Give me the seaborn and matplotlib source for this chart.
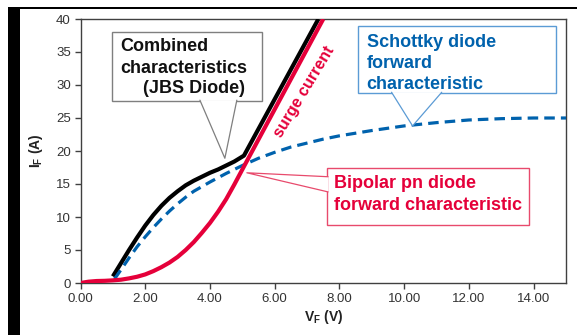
import matplotlib
matplotlib.use("Agg")
import matplotlib.pyplot as plt
import seaborn as sns
import pandas as pd
from matplotlib.patches import Rectangle, Polygon

# ---- data ----
schottky_v = [1.05, 1.25, 1.5, 1.75, 2.0, 2.25, 2.5, 2.75, 3.0, 3.25, 3.5, 3.75, 4.0, 4.5, 5.0, 5.5, 6.0, 6.5,
              7.0, 7.5, 8.0, 9.0, 10.0, 11.0, 12.0, 13.0, 14.0, 15.0]
schottky_i = [0.6, 2.0, 3.8, 5.5, 7.0, 8.4, 9.7, 10.9, 12.0, 13.0, 13.9, 14.6, 15.3, 16.6, 17.8, 18.9, 19.8, 20.6,
              21.2, 21.8, 22.3, 23.1, 23.8, 24.3, 24.7, 24.9, 25.0, 25.0]

combined_v = [1.0, 1.25, 1.5, 1.75, 2.0, 2.25, 2.5, 2.75, 3.0, 3.25, 3.5, 3.75, 4.0, 4.25, 4.5, 4.75, 5.05, 7.35]
combined_i = [1.0, 3.0, 5.0, 6.9, 8.7, 10.3, 11.7, 12.9, 13.9, 14.8, 15.5, 16.1, 16.7, 17.2, 17.8, 18.4, 19.3, 40.0]

bipolar_v = [0.0, 0.25, 0.5, 0.75, 1.0, 1.25, 1.5, 1.75, 2.0, 2.25, 2.5, 2.75, 3.0, 3.25, 3.5, 3.75, 4.0, 4.25,
             4.5, 4.75, 5.0, 7.5]
bipolar_i = [0.0, 0.2, 0.3, 0.33, 0.4, 0.5, 0.7, 0.95, 1.3, 1.8, 2.4, 3.1, 3.95, 5.0, 6.2, 7.6, 9.1, 10.8,
             12.7, 14.9, 17.2, 40.0]

x_ticks = [0, 2, 4, 6, 8, 10, 12, 14]
y_ticks = [0, 5, 10, 15, 20, 25, 30, 35, 40]

RED = "#E5003A"
BLUE = "#0062AD"
BLUE_BOX = "#5B9BD5"
RED_BOX = "#E84A6C"
GRAY = "#404040"

sns.set_theme(style="white")
plt.rcParams["font.family"] = ["Liberation Sans", "DejaVu Sans"]

fig = plt.figure(figsize=(5.77, 3.35), dpi=100)
ax = fig.add_axes([80.5 / 577, 52 / 335, (566 - 80.5) / 577, (283 - 19) / 335])

df_s = pd.DataFrame({"V": schottky_v, "I": schottky_i})
df_c = pd.DataFrame({"V": combined_v, "I": combined_i})
df_b = pd.DataFrame({"V": bipolar_v, "I": bipolar_i})

sns.lineplot(data=df_c, x="V", y="I", ax=ax, color="black", lw=3.0, sort=False,
             solid_capstyle="butt", solid_joinstyle="round", zorder=3)
sns.lineplot(data=df_s, x="V", y="I", ax=ax, color=BLUE, lw=2.3, sort=False, zorder=4)
ax.lines[-1].set_dashes((3.3, 1.9))
sns.lineplot(data=df_b, x="V", y="I", ax=ax, color=RED, lw=3.0, sort=False,
             solid_capstyle="butt", solid_joinstyle="round", zorder=5)

ax.set_xlim(0, 15)
ax.set_ylim(0, 40)
ax.set_xticks(x_ticks)
ax.set_xticklabels([f"{t:.2f}" for t in x_ticks])
ax.set_yticks(y_ticks)
ax.set_yticklabels([str(t) for t in y_ticks])
ax.tick_params(axis="both", which="both", direction="out", length=4, width=1,
               color=GRAY, labelsize=9.5, labelcolor="#333333", pad=3,
               bottom=True, left=True)
for s in ax.spines.values():
    s.set_color(GRAY)
    s.set_linewidth(1.0)
    s.set_visible(True)

ax.set_xlabel(r"V$_\mathregular{F}$ (V)", fontsize=10, fontweight="bold", color="#222222", labelpad=2)
ax.set_ylabel(r"I$_\mathregular{F}$ (A)", fontsize=10, fontweight="bold", color="#222222", labelpad=8)


def callout(box, base, tip, edge, text_lines, text_color):
    x0, y0, x1, y1 = box
    ax.add_patch(Rectangle((x0, y0), x1 - x0, y1 - y0, facecolor="white",
                           edgecolor=edge, lw=1.0, zorder=6))
    (bx0, by0), (bx1, by1) = base
    ax.add_patch(Polygon([(bx0, by0), tip, (bx1, by1)], closed=True,
                         facecolor="white", edgecolor="none", zorder=6.5))
    ax.plot([bx0, tip[0], bx1], [by0, tip[1], by1], color=edge, lw=0.9, zorder=7)
    for (tx, ty, t) in text_lines:
        ax.text(tx, ty, t, color=text_color, fontsize=13, fontweight="bold",
                ha="left", va="center", zorder=8)


# Combined characteristics box
callout((0.97, 27.6, 5.6, 38.0),
        ((3.69, 27.7), (4.83, 27.7)), (4.46, 18.9), "#7F7F7F",
        [(1.22, 35.8, "Combined"), (1.22, 32.5, "characteristics"), (1.93, 29.5, "(JBS Diode)")],
        "#111111")

# Schottky box
callout((8.56, 28.8, 14.7, 38.9),
        ((9.61, 28.9), (11.16, 28.9)), (10.26, 23.8), BLUE_BOX,
        [(8.84, 36.5, "Schottky diode"), (8.84, 33.3, "forward"), (8.84, 30.0, "characteristic")],
        BLUE)

# Bipolar box
callout((7.61, 8.8, 13.87, 17.4),
        ((7.65, 16.1), (7.65, 13.8)), (5.14, 16.7), RED_BOX,
        [(7.82, 15.15, "Bipolar pn diode"), (7.82, 11.8, "forward characteristic")],
        RED)

ax.text(6.9, 28.9, "surge current", color=RED, fontsize=11.5, fontweight="bold",
        rotation=59, rotation_mode="anchor", ha="center", va="center", zorder=8)

# figure frame (black bar left, thin line top)
fig.patches.append(Rectangle((8 / 577, 0), 12 / 577, 328 / 335, transform=fig.transFigure,
                             facecolor="black", edgecolor="none", zorder=10))
fig.patches.append(Rectangle((8 / 577, 326.5 / 335), 569 / 577, 2 / 335, transform=fig.transFigure,
                             facecolor="black", edgecolor="none", zorder=10))

fig.savefig("out.png", dpi=100)
